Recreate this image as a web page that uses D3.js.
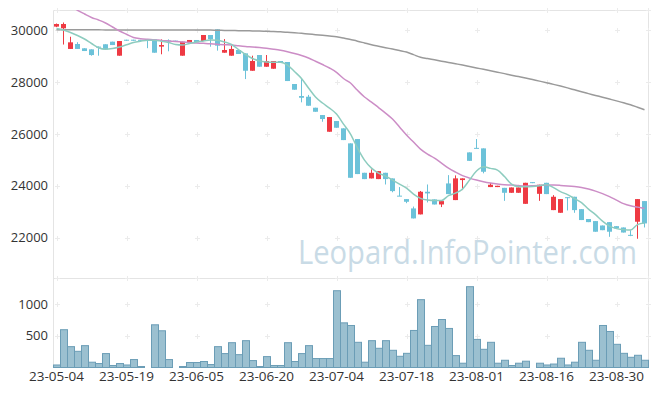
<!DOCTYPE html>
<html>
<head>
<meta charset="utf-8">
<script src="https://cdn.jsdelivr.net/npm/d3@7/dist/d3.min.js"></script>
<style>
body { margin: 0; background: #fff; }
svg text { font-family: "Open Sans", sans-serif; }
</style>
</head>
<body>
<div id="chart"></div>
<script>
// trading days, 23-05-04 .. 23-09-05
var dates = ["23-05-04","23-05-08","23-05-09","23-05-10","23-05-11","23-05-12","23-05-15","23-05-16","23-05-17","23-05-18",
  "23-05-19","23-05-22","23-05-23","23-05-24","23-05-25","23-05-26","23-05-30","23-05-31","23-06-01","23-06-02",
  "23-06-05","23-06-07","23-06-08","23-06-09","23-06-12","23-06-13","23-06-14","23-06-15","23-06-16","23-06-19",
  "23-06-20","23-06-21","23-06-22","23-06-23","23-06-26","23-06-27","23-06-28","23-06-29","23-06-30","23-07-03",
  "23-07-04","23-07-05","23-07-06","23-07-07","23-07-10","23-07-11","23-07-12","23-07-13","23-07-14","23-07-17",
  "23-07-18","23-07-19","23-07-20","23-07-21","23-07-24","23-07-25","23-07-26","23-07-27","23-07-28","23-07-31",
  "23-08-01","23-08-02","23-08-03","23-08-04","23-08-07","23-08-08","23-08-09","23-08-10","23-08-11","23-08-14",
  "23-08-16","23-08-17","23-08-18","23-08-21","23-08-22","23-08-23","23-08-24","23-08-25","23-08-28","23-08-29",
  "23-08-30","23-08-31","23-09-01","23-09-04","23-09-05"];

var open = [30130,30065,29270,29460,29295,29255,29360,29450,29550,29010,
  29625,29625,29620,29640,29640,29360,29600,29590,29010,29525,
  29615,29575,29807,30027,29125,29010,29230,29100,28430,29036,
  28585,28508,28805,28767,27919,27456,27430,27006,26724,26081,
  26493,26212,25633,25800,24500,24283,24257,24500,24283,23620,
  23487,23128,22898,23770,23475,23280,24090,23449,24220,25285,
  25460,25440,23950,23950,23920,23730,23730,23305,24140,23690,
  24115,23063,22960,23560,23577,23100,22720,22640,22470,22600,
  22445,22394,22110,22615,23410];
var high = [30250,30290,29740,29530,29300,29255,29365,29450,29550,29575,
  29625,29625,29620,29645,29640,29640,29640,29590,29550,29615,
  29615,29807,29807,30027,29650,29396,29230,29100,29010,29036,
  29036,28805,28805,28767,27919,28140,27500,27006,26724,26647,
  26493,26212,25633,25800,24500,24630,24565,24500,24283,23950,
  23487,23200,23800,24050,23475,23410,24410,24400,24285,25285,
  25800,25440,24110,24000,23920,23935,23935,24115,24140,24040,
  24115,23640,23487,23560,23577,23100,22720,22640,22470,22600,
  22445,22394,22290,23487,23410];
var low = [30110,29440,29270,29270,29190,29010,29010,29255,29420,29010,
  29605,29605,29600,29300,29125,29065,29180,29575,29010,29525,
  29525,29575,29357,29205,29125,29010,29075,28110,28430,28585,
  28585,28508,28740,28034,27700,27214,27083,26851,26466,26081,
  26235,25760,24308,24451,24257,24283,24257,24050,23750,23600,
  23330,22743,22898,23360,23280,23180,23680,23449,23835,24960,
  25440,24480,23950,23950,23420,23730,23730,23305,24130,23420,
  23680,23063,22960,23050,22960,22680,22600,22230,22290,22035,
  22357,22200,22060,21960,22395];
var close = [30230,30230,29525,29270,29190,29035,29340,29255,29420,29575,
  29605,29605,29600,29620,29125,29420,29570,29575,29550,29615,
  29525,29807,29642,29396,29230,29270,29075,28430,28805,28585,
  28805,28805,28740,28034,27700,27390,27083,26851,26570,26647,
  26235,25760,24308,24451,24257,24500,24565,24257,23795,23600,
  23384,22743,23770,23706,23280,23410,23680,24285,24285,24960,
  25440,24540,24040,24000,23730,23935,23935,24115,24130,24040,
  23680,23577,23487,23550,23063,22680,22600,22230,22290,22230,
  22357,22200,22100,23487,22550];
var volume = [40,600,331,257,347,84,63,221,32,63,
  40,126,16,0,678,583,126,0,16,79,
  79,95,47,331,221,394,204,426,110,16,
  173,32,32,394,95,221,347,142,142,142,
  1219,709,667,400,84,426,305,426,273,178,
  225,588,1077,352,651,762,620,189,68,1283,
  446,289,400,68,115,32,68,100,0,68,
  40,55,147,40,84,400,273,115,667,572,
  368,225,162,194,115];

// moving averages as drawn
var ma5 = [30058,30000,29904,29788,29653,29480,29318,29260,29287,29345,
  29430,29518,29568,29607,29607,29565,29518,29441,29422,29480,
  29538,29576,29615,29603,29538,29441,29248,29056,28902,28805,
  28767,28755,28755,28651,28401,28131,27765,27418,27187,26994,
  26763,26377,25992,25452,24990,24681,24489,24373,24219,24065,
  23911,23680,23514,23448,23429,23429,23622,23718,23872,24219,
  24566,24732,24670,24604,24354,24065,23968,23961,23976,24007,
  24045,23930,23776,23660,23506,23352,23101,22889,22639,22446,
  22350,22311,22292,22504,22562];
var ma20 = [31150,31050,30925,30760,30617,30482,30385,30270,30116,29961,
  29834,29711,29665,29642,29626,29595,29576,29557,29538,29518,
  29499,29487,29468,29449,29433,29422,29391,29364,29345,29322,
  29295,29260,29218,29160,29094,29017,28921,28798,28670,28535,
  28370,28131,27957,27676,27418,27225,27013,26801,26570,26262,
  25953,25684,25414,25221,25067,24874,24681,24527,24392,24296,
  24219,24153,24103,24065,24038,24026,24007,23995,23999,24007,
  24026,24026,24015,23995,23968,23930,23872,23795,23699,23583,
  23448,23313,23228,23178,23128];
var ma120 = [30010,30010,30008,30008,30006,30005,30005,30004,30004,30003,
  30003,30002,30002,30002,30001,30001,30000,30000,30000,30000,
  30000,29998,29995,29990,29985,29980,29975,29970,29965,29958,
  29950,29940,29928,29915,29895,29870,29845,29820,29795,29768,
  29740,29690,29630,29570,29500,29430,29375,29320,29265,29210,
  29150,29050,28950,28900,28850,28800,28750,28700,28650,28595,
  28540,28485,28430,28375,28320,28260,28205,28150,28090,28030,
  27970,27905,27840,27770,27695,27620,27550,27480,27410,27340,
  27270,27195,27120,27025,26930];

var priceTicks = [22000, 24000, 26000, 28000, 30000];
var volumeTicks = [500, 1000];
var dateTicks = ["23-05-04","23-05-19","23-06-05","23-06-20","23-07-04","23-07-18","23-08-01","23-08-16","23-08-30"];

var chartW = 657, chartH = 396;
var pLeft = 53, pRight = 648, pTop = 10, pSplit = 278, pBottom = 367;
var UP = "#ee3a43", DOWN = "#6cc2d9";

var rows = dates.map(function(d, i) {
  return {date: d, o: open[i], h: high[i], l: low[i], c: close[i], v: volume[i],
          ma5: ma5[i], ma20: ma20[i], ma120: ma120[i]};
});

var svg = d3.select("#chart").append("svg")
  .attr("width", chartW)
  .attr("height", chartH);

var x = d3.scaleBand().domain(dates).range([pLeft, pRight]).padding(0);
var y = d3.scaleLinear().domain([20448, 30770]).range([pSplit, pTop]);
var yv = d3.scaleLinear().domain([0, 1413]).range([pBottom, pSplit]);
var cx = function(d) { return x(d) + x.bandwidth() / 2; };

svg.append("defs").append("clipPath").attr("id", "pclip")
  .append("rect").attr("x", pLeft).attr("y", pTop).attr("width", pRight - pLeft).attr("height", pSplit - pTop);

// frame
var frame = svg.append("g").attr("stroke", "#e4e4e4").attr("fill", "none");
frame.append("path").attr("d", "M" + (pLeft + 0.5) + "," + pBottom + "V" + (pTop + 0.5) + "H" + (pRight + 0.5) + "V" + pBottom);
frame.append("path").attr("d", "M" + pLeft + "," + (pSplit + 0.5) + "H" + pRight);

// grid crosses
var gx = dateTicks.map(cx).concat([pRight]);
var gy = priceTicks.map(y).concat(volumeTicks.map(yv), [pTop, pSplit]);
var crosses = [];
gx.forEach(function(a) { gy.forEach(function(b) { crosses.push([Math.round(a) + 0.5, Math.round(b) + 0.5]); }); });
svg.append("g").attr("stroke", "#ebebeb").attr("stroke-width", 1)
  .selectAll("path").data(crosses).join("path")
  .attr("d", function(p) { return "M" + (p[0] - 2.5) + "," + p[1] + "h5M" + p[0] + "," + (p[1] - 2.5) + "v5"; });

// watermark
svg.append("text")
  .attr("x", 298).attr("y", 264)
  .attr("textLength", 339).attr("lengthAdjust", "spacingAndGlyphs")
  .attr("font-size", 32)
  .attr("fill", "#c9dbe6")
  .text("Leopard.InfoPointer.com");

// candles
var candles = svg.append("g").attr("clip-path", "url(#pclip)")
  .selectAll("g").data(rows).join("g")
  .attr("fill", function(d) { return d.c > d.o ? UP : DOWN; });
candles.append("rect")
  .attr("x", function(d) { return cx(d.date) - 0.5; })
  .attr("width", 1)
  .attr("y", function(d) { return y(d.h); })
  .attr("height", function(d) { return Math.max(1, y(d.l) - y(d.h)); });
candles.append("rect")
  .attr("x", function(d) { return x(d.date) + 1; })
  .attr("width", x.bandwidth() - 2)
  .attr("y", function(d) { return y(Math.max(d.o, d.c)); })
  .attr("height", function(d) { return Math.max(1, Math.abs(y(d.o) - y(d.c))); });

// moving averages
var lines = svg.append("g").attr("clip-path", "url(#pclip)").attr("fill", "none").attr("stroke-width", 1.5);
[["ma120", "#9a9a9a"], ["ma20", "#cc8dc6"], ["ma5", "#8dccbf"]].forEach(function(s) {
  lines.append("path")
    .attr("stroke", s[1])
    .attr("d", d3.line()
      .x(function(d) { return cx(d.date); })
      .y(function(d) { return y(d[s[0]]); })
      .curve(d3.curveMonotoneX)(rows));
});

// volume
svg.append("g")
  .selectAll("rect").data(rows.filter(function(d) { return d.v > 0; })).join("rect")
  .attr("x", function(d) { return x(d.date) + 0.5; })
  .attr("width", x.bandwidth())
  .attr("y", function(d) { return yv(d.v) + 0.5; })
  .attr("height", function(d) { return pBottom - yv(d.v); })
  .attr("fill", "#9bc0d0")
  .attr("stroke", "#6b9db6")
  .attr("stroke-width", 1);

// axes
function styleAxis(size) {
  return function(g) {
    g.select(".domain").remove();
    g.selectAll("text").attr("font-size", size).attr("fill", "#333");
  };
}
svg.append("g").attr("transform", "translate(" + pLeft + ",0)")
  .call(d3.axisLeft(y).tickValues(priceTicks).tickSize(0).tickPadding(5).tickFormat(d3.format("d")))
  .call(styleAxis(13));
svg.append("g").attr("transform", "translate(" + pLeft + ",0)")
  .call(d3.axisLeft(yv).tickValues(volumeTicks).tickSize(0).tickPadding(5).tickFormat(d3.format("d")))
  .call(styleAxis(13));
svg.append("g").attr("transform", "translate(0," + pBottom + ")")
  .call(d3.axisBottom(x).tickValues(dateTicks).tickSize(0).tickPadding(4))
  .call(styleAxis(13.5));
</script>
</body>
</html>
